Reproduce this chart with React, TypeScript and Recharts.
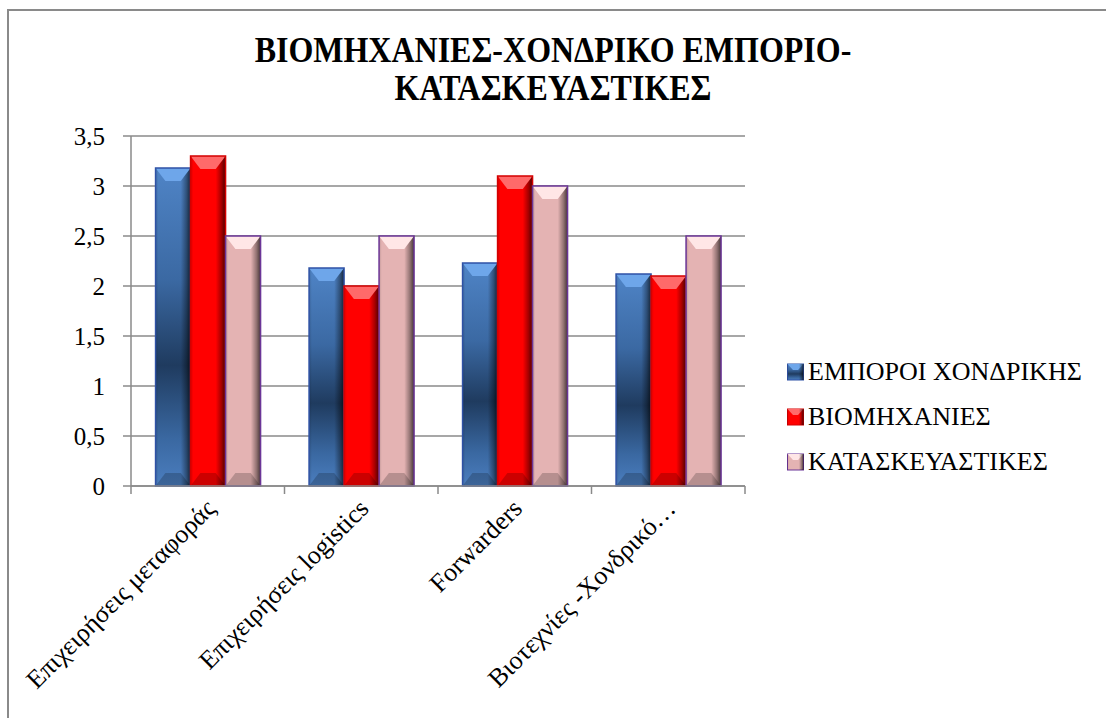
import { BarChart, Bar, XAxis, YAxis, CartesianGrid, Legend } from 'recharts'

const categories = ['Επιχειρήσεις μεταφοράς', 'Επιχειρήσεις logistics', 'Forwarders', 'Βιοτεχνίες -Χονδρικό…']
const emporoi = [3.18, 2.18, 2.23, 2.12]
const viomixanies = [3.3, 2.0, 3.1, 2.1]
const kataskeuastikes = [2.5, 2.5, 3.0, 2.5]
const yTicks = [0, 0.5, 1, 1.5, 2, 2.5, 3, 3.5]
const titleLines = ['ΒΙΟΜΗΧΑΝΙΕΣ-ΧΟΝΔΡΙΚΟ ΕΜΠΟΡΙΟ-', 'ΚΑΤΑΣΚΕΥΑΣΤΙΚΕΣ']

const SERIES = [
    { key: 'emporoi', name: 'ΕΜΠΟΡΟΙ ΧΟΝΔΡΙΚΗΣ', fill: 'url(#gBlue)', color: '#4f81bd', light: '#6ea6ea', stroke: '#2f52a6' },
    { key: 'viomixanies', name: 'ΒΙΟΜΗΧΑΝΙΕΣ', fill: '#ff0000', color: '#ff0000', light: '#ff6a6a', stroke: '#d40000' },
    { key: 'kataskeuastikes', name: 'ΚΑΤΑΣΚΕΥΑΣΤΙΚΕΣ', fill: '#e4b3b3', color: '#e4b3b3', light: '#ffe6e6', stroke: '#6b3597' }
]

const data = categories.map((name, i) => ({
    name,
    emporoi: emporoi[i],
    viomixanies: viomixanies[i],
    kataskeuastikes: kataskeuastikes[i]
}))

const W = 1106
const H = 718
const MARGIN = { top: 136, right: 361, bottom: 0, left: 0 }
const Y_WIDTH = 131
const BAND = (W - MARGIN.right - Y_WIDTH) / categories.length

const FONT = "'Liberation Serif', 'DejaVu Serif', serif"
const GRID = '#8a8a8a'

function BevelBar(props: any) {
    const { x, y, width, height, s } = props
    if (!height || height <= 0) return null
    const bv = Math.min(13, height / 2)
    const l = x + width * 0.28
    const r = x + width * 0.72
    return (
        <g>
            <rect x={x} y={y} width={width} height={height} fill={s.fill} />
            <rect x={x} y={y} width={width} height={height} fill="url(#gEdge)" />
            <polygon points={`${x},${y} ${x + width},${y} ${r},${y + bv} ${l},${y + bv}`} fill={s.light} />
            <polygon points={`${x},${y + height} ${x + width},${y + height} ${r},${y + height - bv} ${l},${y + height - bv}`} fill="#000" fillOpacity={0.2} />
            <rect x={x} y={y} width={width} height={height} fill="none" stroke={s.stroke} strokeWidth={1.5} />
        </g>
    )
}

// label plus the Excel-style tick marks at the category boundaries
function CategoryTick({ x, y, payload, index }: any) {
    const tx = x + 9
    const ty = y + 24
    const left = x - BAND / 2
    const right = x + BAND / 2
    return (
        <g>
            <line x1={left} x2={left} y1={y} y2={y + 8} stroke={GRID} strokeWidth={1.5} />
            {index === categories.length - 1 && (
                <line x1={right} x2={right} y1={y} y2={y + 8} stroke={GRID} strokeWidth={1.5} />
            )}
            <text
                x={tx}
                y={ty}
                transform={`rotate(-45, ${tx}, ${ty})`}
                textAnchor="end"
                fontSize={26}
                fontFamily={FONT}
                fill="#000"
            >
                {payload.value}
            </text>
        </g>
    )
}

function LegendContent() {
    return (
        <svg width={320} height={135}>
            {SERIES.map((s, i) => {
                const cy = 22 + i * 45
                return (
                    <g key={s.key}>
                        <rect x={0.5} y={cy - 8} width={16} height={16} fill={s.fill} stroke={s.stroke} />
                        <polygon points={`0.5,${cy - 8} 16.5,${cy - 8} 11,${cy - 2} 6,${cy - 2}`} fill={s.light} />
                        <rect x={0.5} y={cy - 8} width={16} height={16} fill="url(#gEdge)" />
                        <text x={21} y={cy + 8} fontSize={26} fontFamily={FONT} fill="#000">{s.name}</text>
                    </g>
                )
            })}
        </svg>
    )
}

export default function App() {
    return (
        <div style={{ position: 'relative', width: W, height: H, overflow: 'hidden', background: '#fff' }}>
            <style>{'body{margin:0;overflow:hidden}'}</style>
            <div style={{ position: 'absolute', left: 7, top: 9, width: 1200, height: 800, border: '2px solid #8a8a8a' }} />
            <div style={{ position: 'absolute', left: 0, top: 0 }}>
                <BarChart
                    width={W}
                    height={H}
                    data={data}
                    margin={MARGIN}
                    barCategoryGap="16%"
                    barGap={0}
                >
                    <defs>
                        <linearGradient id="gBlue" x1="0" y1="0" x2="0" y2="1">
                            <stop offset="0" stopColor="#4f84c6" />
                            <stop offset="0.35" stopColor="#3b69a3" />
                            <stop offset="0.62" stopColor="#1f3b5f" />
                            <stop offset="0.85" stopColor="#3a68a1" />
                            <stop offset="1" stopColor="#4b7ebf" />
                        </linearGradient>
                        <linearGradient id="gEdge" x1="0" y1="0" x2="1" y2="0">
                            <stop offset="0" stopColor="#000" stopOpacity={0.15} />
                            <stop offset="0.08" stopColor="#000" stopOpacity={0} />
                            <stop offset="0.72" stopColor="#000" stopOpacity={0} />
                            <stop offset="0.88" stopColor="#000" stopOpacity={0.35} />
                            <stop offset="1" stopColor="#000" stopOpacity={0.7} />
                        </linearGradient>
                    </defs>
                    <g transform="scale(1, 1.1)">
                        <text textAnchor="middle" fontFamily={FONT} fontWeight="bold" fontSize={32} fill="#000">
                            {titleLines.map((t, i) => (
                                <tspan key={i} x={W / 2} y={(62 + i * 38) / 1.1}>{t}</tspan>
                            ))}
                        </text>
                    </g>
                    <CartesianGrid vertical={false} stroke={GRID} strokeWidth={1.5} />
                    <XAxis
                        dataKey="name"
                        height={232}
                        interval={0}
                        tick={<CategoryTick />}
                        tickLine={false}
                        tickSize={0}
                        tickMargin={0}
                        axisLine={{ stroke: GRID, strokeWidth: 1.5 }}
                    />
                    <YAxis
                        width={Y_WIDTH}
                        domain={[0, 3.5]}
                        ticks={yTicks}
                        tickFormatter={(v) => String(v).replace('.', ',')}
                        tick={{ fill: '#000', fontSize: 25, fontFamily: FONT }}
                        tickSize={8}
                        tickMargin={18}
                        tickLine={{ stroke: GRID, strokeWidth: 1.5 }}
                        axisLine={{ stroke: GRID, strokeWidth: 1.5 }}
                    />
                    {SERIES.map(s => (
                        <Bar
                            key={s.key}
                            dataKey={s.key}
                            name={s.name}
                            fill={s.color}
                            isAnimationActive={false}
                            shape={(p: any) => <BevelBar {...p} s={s} />}
                        />
                    ))}
                    <Legend
                        layout="horizontal"
                        verticalAlign="middle"
                        align="center"
                        content={<LegendContent />}
                        wrapperStyle={{ left: 787, top: 350, width: 320 }}
                    />
                </BarChart>
            </div>
        </div>
    )
}
